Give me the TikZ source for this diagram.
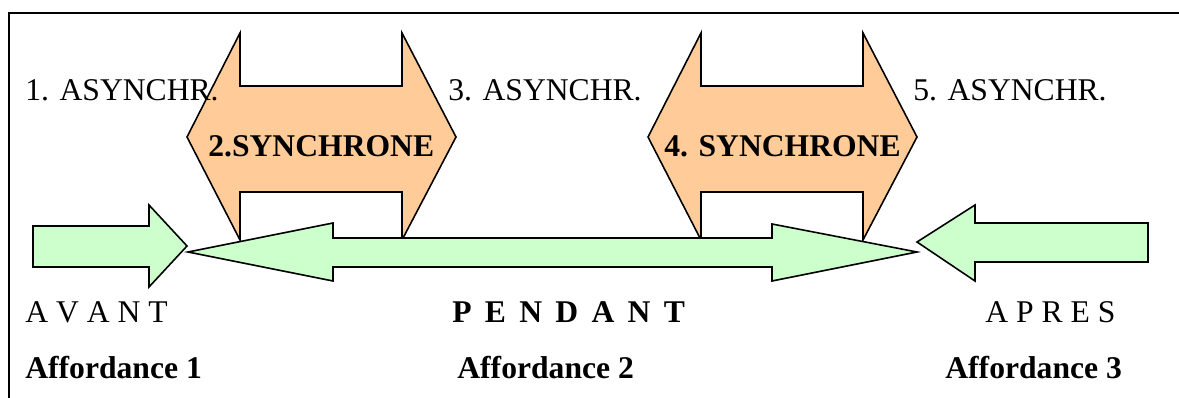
\documentclass[tikz,border=0pt]{standalone}
\usepackage{fontspec}
\setmainfont{Liberation Serif}
\usetikzlibrary{shapes,arrows}

\definecolor{synchro}{RGB}{255,204,153}
\definecolor{period}{RGB}{204,255,204}

\tikzset{
  syncarrow/.style={draw=black, line width=0.9pt, fill=synchro, line join=miter},
  timearrow/.style={draw=black, line width=0.9pt, fill=period, line join=miter},
  lab/.style={inner sep=0pt, anchor=base west, font=\fontsize{18}{21}\selectfont},
  blab/.style={lab, font=\fontsize{18}{21}\selectfont\bfseries},
}

\begin{document}
\begin{tikzpicture}[x=0.02cm, y=-0.02cm]
    \useasboundingbox (0,0) rectangle (1179,398);

    % Frame
    \draw[line width=1.2pt] (9,420) -- (9,13) -- (1200,13);

    % Synchronous phases
    \foreach \dx in {0,461} {
        \draw[syncarrow, xshift=\dx*0.02cm] (187,137) -- (240,33) -- (240,86) -- (402,86) -- (402,33)
            -- (456,137) -- (402,240) -- (402,192) -- (240,192) -- (240,240) -- cycle;
    }

    % Before / during / after
    \draw[timearrow] (33,226) -- (149,226) -- (149,205) -- (187,246) -- (149,287) -- (149,267) -- (33,267) -- cycle;
    \draw[timearrow] (188,252) -- (333,223) -- (333,238) -- (772,238) -- (772,224) -- (917,252)
        -- (772,281) -- (772,267) -- (333,267) -- (333,281) -- cycle;
    \draw[timearrow] (917,242) -- (975,205) -- (975,223) -- (1148,223) -- (1148,262) -- (975,262) -- (975,281) -- cycle;

    % Asynchronous phases
    \node[lab] (asyn1) at (25,101) {1. ASYNCHR.};
    \node[lab] (asyn3) at (448,101) {3. ASYNCHR.};
    \node[lab] (asyn5) at (913,101) {5. ASYNCHR.};

    % Synchronous labels
    \node[blab] (sync2) at (208,157) {2.SYNCHRONE};
    \node[blab] (sync4) at (664,157) {4. SYNCHRONE};

    % Periods
    \node[lab] (avant) at (25,322) {A V A N T};
    \node[blab] (pendant) at (452,322) {\spaceskip=0.42em P E N D A N T};
    \node[lab] (apres) at (985,322) {A P R E S};

    % Affordances
    \node[blab] (aff1) at (25,378) {Affordance 1};
    \node[blab] (aff2) at (457,378) {Affordance 2};
    \node[blab] (aff3) at (945,378) {Affordance 3};
\end{tikzpicture}
\end{document}
